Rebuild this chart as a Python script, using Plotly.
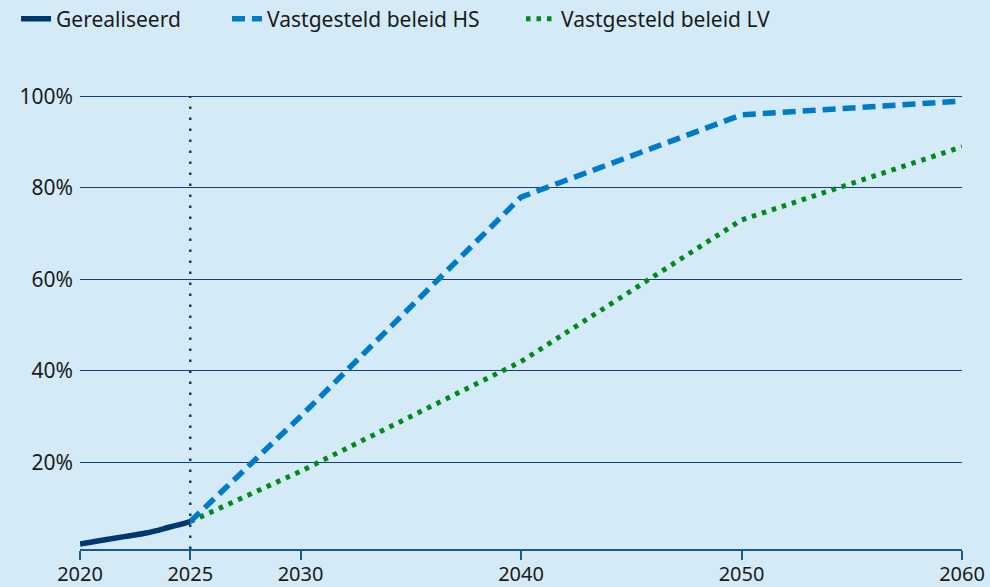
import plotly.graph_objects as go

# ---- data ----
years_real = [2020, 2021, 2022, 2023, 2024, 2025]
share_real = [2.1, 2.9, 3.7, 4.5, 5.7, 7.0]

years_hs = [2025, 2030, 2035, 2040, 2050, 2060]
share_hs = [7.0, 30.0, 54.0, 78.0, 96.0, 99.0]

years_lv = [2025, 2030, 2035, 2040, 2050, 2060]
share_lv = [7.0, 18.0, 30.0, 42.0, 73.0, 89.0]

ref_year = 2025
x_ticks = [2020, 2025, 2030, 2040, 2050, 2060]
y_ticks = [20, 40, 60, 80, 100]
y_tick_labels = ["20%", "40%", "60%", "80%", "100%"]

BG = "#d4ebf7"
NAVY = "#01386b"
GRID = "#154273"
FONT = "Noto Sans"
TXT = "#1a1a1a"
FS = 21

fig = go.Figure()

# reference vertical dotted line
fig.add_trace(go.Scatter(
    x=[ref_year, ref_year], y=[1, 100], mode="lines",
    line=dict(color="#0b3d6e", width=2.5, dash="2.5px,8.5px"),
    showlegend=False, hoverinfo="skip"))

fig.add_trace(go.Scatter(
    x=years_lv, y=share_lv, mode="lines", name="Vastgesteld beleid LV",
    line=dict(color="#008a1e", width=5, dash="4.5px,6px"), legend="legend3"))
fig.add_trace(go.Scatter(
    x=years_hs, y=share_hs, mode="lines", name="Vastgesteld beleid HS",
    line=dict(color="#007bc7", width=5.5, dash="13px,7px"), legend="legend2"))
fig.add_trace(go.Scatter(
    x=years_real, y=share_real, mode="lines", name="Gerealiseerd",
    line=dict(color=NAVY, width=5.5, shape="spline"), legend="legend"))

leg_common = dict(orientation="h", xanchor="left", y=1.0838, yanchor="middle",
                  font=dict(family=FONT, size=FS, color=TXT),
                  bgcolor="rgba(0,0,0,0)", borderwidth=0)

fig.update_layout(
    width=990, height=587,
    paper_bgcolor=BG, plot_bgcolor=BG,
    margin=dict(l=80, r=28, t=60, b=38, autoexpand=False),
    font=dict(family=FONT, size=FS, color=TXT),
    legend=dict(x=-0.0725, **leg_common),
    legend2=dict(x=0.1667, **leg_common),
    legend3=dict(x=0.500, **leg_common),
    xaxis=dict(range=[2020, 2060], tickvals=x_ticks, ticktext=[str(v) for v in x_ticks],
               showgrid=False, zeroline=False, showline=True, linecolor="#1a5a8c", linewidth=2,
               ticks="outside", ticklen=9, tickwidth=2, tickcolor="#1a5a8c",
               ticklabelstandoff=-3,
               tickfont=dict(family=FONT, size=20, color=TXT)),
    yaxis=dict(range=[1, 108], tickvals=y_ticks, ticktext=y_tick_labels,
               showgrid=True, gridcolor=GRID, gridwidth=1, zeroline=False,
               showline=False, ticks="", ticklabelstandoff=6,
               tickfont=dict(family=FONT, size=FS, color=TXT)),
    hovermode=False,
)

fig.write_html("out.html",
               config={"displayModeBar": False, "staticPlot": True},
               post_script="document.body.style.margin='0';document.body.style.background='%s';"
                           "document.body.style.overflow='hidden';" % BG)
